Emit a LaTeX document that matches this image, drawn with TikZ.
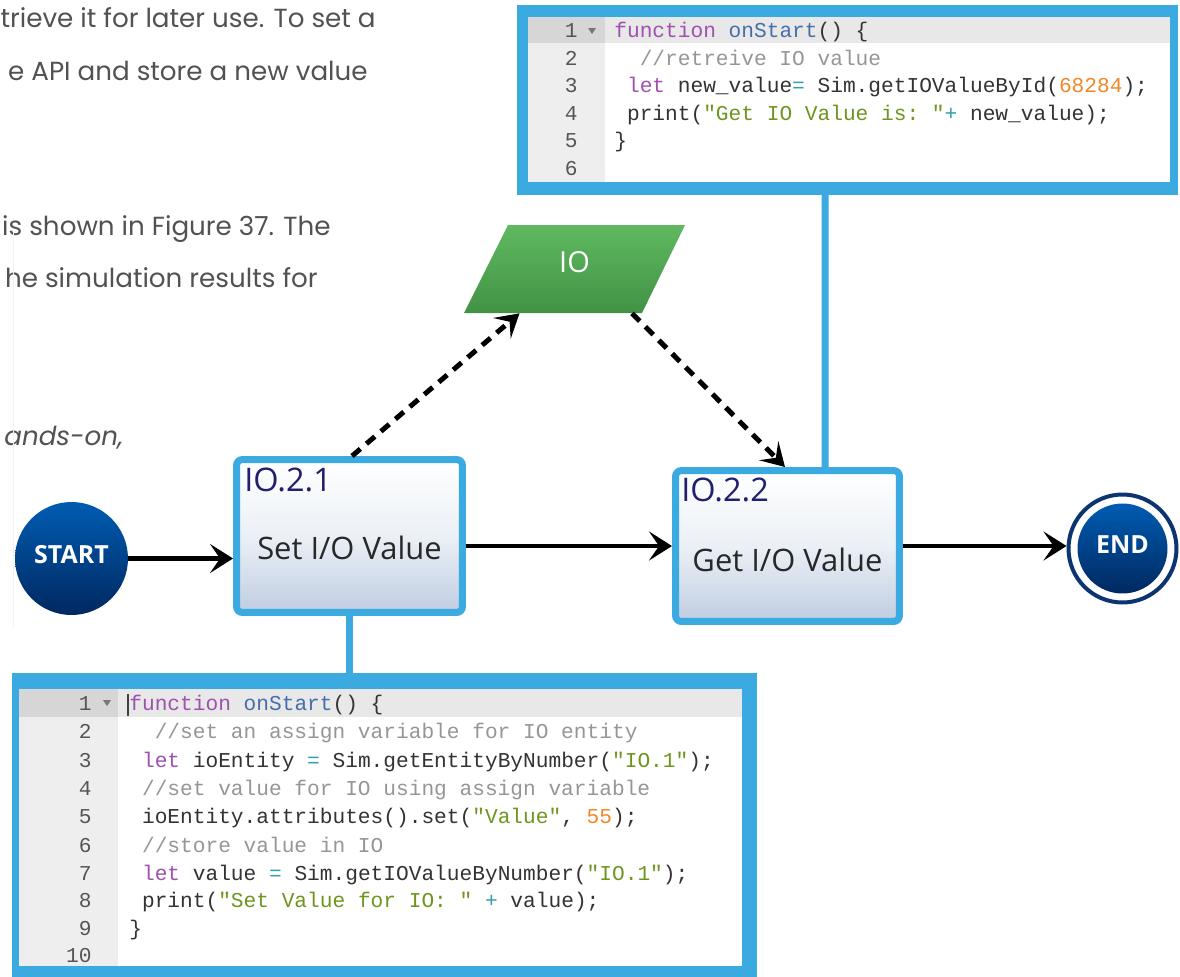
\documentclass[tikz,border=0pt]{standalone}
\usepackage{fontspec}
\setmainfont{Open Sans}
\setmonofont{Liberation Mono}
\newfontfamily\popfont{Poppins}
\usetikzlibrary{arrows.meta}
\definecolor{bluebrd}{RGB}{58,170,225}
\definecolor{navylbl}{RGB}{34,32,110}
\definecolor{boxtxt}{RGB}{40,40,40}
\definecolor{paratxt}{RGB}{82,82,82}
\definecolor{ckw}{RGB}{160,80,175}
\definecolor{cfn}{RGB}{70,110,170}
\definecolor{ccm}{RGB}{150,150,150}
\definecolor{cst}{RGB}{110,150,30}
\definecolor{cnu}{RGB}{242,135,40}
\definecolor{cop}{RGB}{50,160,170}
\definecolor{ccode}{RGB}{51,51,51}
\definecolor{gut}{RGB}{238,238,238}
\definecolor{gutact}{RGB}{214,214,214}
\definecolor{rowact}{RGB}{232,232,232}
\definecolor{lnumc}{RGB}{85,85,85}
\definecolor{circtop}{RGB}{0,92,178}
\definecolor{circbot}{RGB}{0,40,96}
\definecolor{ringc}{RGB}{12,52,112}
\definecolor{grtop}{RGB}{95,185,95}
\definecolor{grbot}{RGB}{66,146,70}
\definecolor{boxbot}{RGB}{192,205,225}
\newcommand\cKw[1]{\textcolor{ckw}{#1}}
\newcommand\cFn[1]{\textcolor{cfn}{#1}}
\newcommand\cCm[1]{\textcolor{ccm}{#1}}
\newcommand\cSt[1]{\textcolor{cst}{#1}}
\newcommand\cNu[1]{\textcolor{cnu}{#1}}
\newcommand\cOp[1]{\textcolor{cop}{#1}}
\tikzset{
  paratext/.style={font=\popfont\fontsize{14.9pt}{18pt}\selectfont, text=paratxt, inner sep=0pt, anchor=base east},
  stepbox/.style={draw=bluebrd, line width=0.14cm, rounded corners=0.12cm, top color=white, bottom color=boxbot, middle color={rgb,255:red,235;green,240;blue,246}, inner sep=0pt, text=boxtxt, font=\fontsize{17.6pt}{20pt}\selectfont, text depth=0pt},
  steplbl/.style={font=\fontsize{18.5pt}{20pt}\selectfont, text=navylbl, inner sep=0pt, anchor=base west},
  termc/.style={circle, draw=none, top color=circtop, bottom color=circbot, text=white, font=\bfseries\fontsize{14.2pt}{16pt}\selectfont, inner sep=0pt, text depth=0.16cm},
  endring/.style={circle, draw=ringc, line width=0.08cm, fill=white, inner sep=0pt, minimum size=2.16cm},
  codebox/.style={rectangle, fill=bluebrd, draw=none, inner sep=0pt, outer sep=0pt},
  codetxt/.style={font=\ttfamily\fontsize{12.05pt}{14pt}\selectfont, text=ccode, inner sep=0pt, anchor=base west},
  lnum/.style={font=\ttfamily\fontsize{12.05pt}{14pt}\selectfont, text=lnumc, inner sep=0pt, anchor=base east},
  arr/.style={-{Stealth[length=0.46cm,width=0.58cm,inset=0.2cm]}, line width=0.09cm, black},
  dasharr/.style={-{Stealth[length=0.46cm,width=0.54cm,inset=0.2cm]}, line width=0.1cm, black, dash pattern=on 0.22cm off 0.16cm},
  bluelink/.style={draw=bluebrd, line width=0.14cm},
  foldtri/.style={fill={rgb,255:red,120;green,120;blue,120}, draw=none}
}
\begin{document}
\begin{tikzpicture}[x=0.02cm, y=-0.02cm]
\useasboundingbox (0,0) rectangle (1180,977);
\clip (0,0) rectangle (1180,977);
\fill[white] (0,0) rectangle (1180,977);

% paragraph fragments
\node[paratext] (p1) at (376,28) {trieve it for later use. To set a};
\node[paratext] (p2) at (368,80) {e API and store a new value};
\node[paratext] (p3) at (331,235) {is shown in Figure 37. The};
\node[paratext] (p4) at (318,287) {he simulation results for};
\node[paratext, anchor=base west] (p5) at (4,445) {\itshape ands-on,};
\draw[black!5, line width=0.02cm] (13,232) -- (13,627);

% top code box
\node[codebox, minimum width=13.22cm, minimum height=3.8cm] (topbox) at (847.5,100) {};
\fill[white] (528,17) rectangle (1170,182);
\fill[gut] (528,17) rectangle (605,182);
\fill[rowact] (605,17) rectangle (1170,43);
\fill[gutact] (528,17) rectangle (605,43);
\fill[foldtri] (588,28) -- (596,28) -- (592,34) -- cycle;
\node[lnum] (tn1) at (578,37) {1};
\node[lnum] (tn2) at (578,65) {2};
\node[lnum] (tn3) at (578,92) {3};
\node[lnum] (tn4) at (578,120) {4};
\node[lnum] (tn5) at (578,147) {5};
\node[lnum] (tn6) at (578,175) {6};
\node[codetxt] (tc1) at (614,37) {\cKw{function} \cFn{onStart}() \{};
\node[codetxt] (tc2) at (639.4,65) {\cCm{//retreive IO value}};
\node[codetxt] (tc3) at (626.7,92) {\cKw{let} new\_value\cOp{=} Sim.getIOValueById(\cNu{68284});};
\node[codetxt] (tc4) at (626.7,120) {print(\cSt{"Get IO Value is: "}\cOp{+} new\_value);};
\node[codetxt] (tc5) at (614,147) {\}};

% bottom code box
\node[codebox, minimum width=14.9cm, minimum height=6.24cm] (botbox) at (384.5,829) {};
\fill[white] (19,689) rectangle (742,966);
\fill[gut] (19,689) rectangle (118,966);
\fill[rowact] (118,689) rectangle (742,717);
\fill[gutact] (19,689) rectangle (118,717);
\fill[foldtri] (103,700) -- (111,700) -- (107,706) -- cycle;
\draw[black!75, line width=0.03cm] (128,694) -- (128,716);
\node[lnum] (bn1) at (92,710) {1};
\node[lnum] (bn2) at (92,738) {2};
\node[lnum] (bn3) at (92,767) {3};
\node[lnum] (bn4) at (92,795) {4};
\node[lnum] (bn5) at (92,823) {5};
\node[lnum] (bn6) at (92,852) {6};
\node[lnum] (bn7) at (92,880) {7};
\node[lnum] (bn8) at (92,907) {8};
\node[lnum] (bn9) at (92,935) {9};
\node[lnum] (bn10) at (92,962) {10};
\node[codetxt] (bc1) at (129,710) {\cKw{function} \cFn{onStart}() \{};
\node[codetxt] (bc2) at (154.4,738) {\cCm{//set an assign variable for IO entity}};
\node[codetxt] (bc3) at (141.7,767) {\cKw{let} ioEntity \cOp{=} Sim.getEntityByNumber(\cSt{"IO.1"});};
\node[codetxt] (bc4) at (141.7,795) {\cCm{//set value for IO using assign variable}};
\node[codetxt] (bc5) at (141.7,823) {ioEntity.attributes().set(\cSt{"Value"}, \cNu{55});};
\node[codetxt] (bc6) at (141.7,852) {\cCm{//store value in IO}};
\node[codetxt] (bc7) at (141.7,880) {\cKw{let} value \cOp{=} Sim.getIOValueByNumber(\cSt{"IO.1"});};
\node[codetxt] (bc8) at (141.7,907) {print(\cSt{"Set Value for IO: "} \cOp{+} value);};
\node[codetxt] (bc9) at (129,935) {\}};

% IO data parallelogram
\shade[top color=grtop, bottom color=grbot] (508,225) -- (685,225) -- (642,313) -- (464,313) -- cycle;
\node[minimum width=4.42cm, minimum height=1.76cm, inner sep=0pt, text=white, font=\fontsize{16.5pt}{18pt}\selectfont, text depth=0.28cm] (io) at (574.5,269) {IO};

% process boxes
\node[stepbox, minimum width=4.52cm, minimum height=3.06cm, text height=0.94cm] (io21) at (349.5,536) {Set I/O Value};
\node[steplbl] (io21lbl) at (244,491) {IO.2.1};
\node[stepbox, minimum width=4.48cm, minimum height=3.02cm, text height=1.0cm] (io22) at (787.5,546) {Get I/O Value};
\node[steplbl] (io22lbl) at (681,501) {IO.2.2};

% start / end
\node[termc, minimum size=2.26cm] (start) at (71.5,558.5) {START};
\node[endring] (endn) at (1122.5,548.5) {};
\node[termc, minimum size=1.8cm] (endtxt) at (endn.center) {END};

% blue links to code
\draw[bluelink] ([xshift=-0.45cm]topbox.south) -- ([xshift=0.75cm]io22.north);
\draw[bluelink] (io21.south) -- (io21.south |- botbox.north);

% flow arrows
\draw[arr] (start.east) -- (start.east -| io21.west);
\draw[arr] (io21.east |- io22.west) -- (io22.west);
\draw[arr] (io22.east) -- (io22.east -| endn.west);

% data arrows
\draw[dasharr] ([xshift=0.05cm]io21.north) -- ([xshift=-1.1cm]io.south);
\draw[dasharr] ([xshift=1.15cm]io.south) -- ([xshift=-0.05cm]io22.north);
\end{tikzpicture}
\end{document}
